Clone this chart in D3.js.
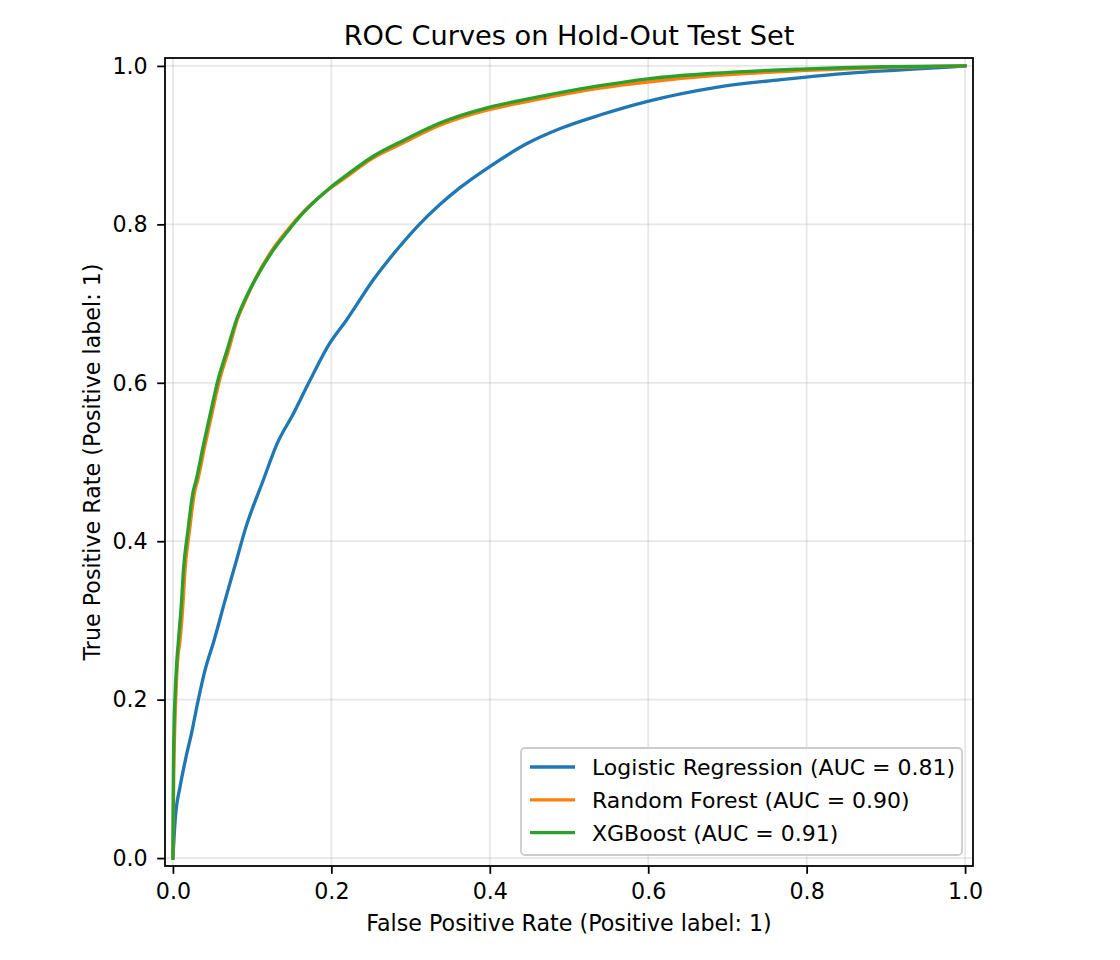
<!DOCTYPE html>
<html>
<head>
<meta charset="utf-8">
<script src="https://cdn.jsdelivr.net/npm/d3@7"></script>
<style>
  body { margin: 0; background: #fff; }
  svg { font-family: "DejaVu Sans", sans-serif; }
</style>
</head>
<body>
<div id="chart"></div>
<script>
// ROC points (fpr, tpr)
let lrFpr = [0, 0.003, 0.009, 0.016, 0.024, 0.031, 0.040, 0.052, 0.066, 0.080, 0.091, 0.114, 0.131, 0.152, 0.171, 0.198, 0.219, 0.253, 0.287, 0.312, 0.337, 0.362, 0.400, 0.447, 0.489, 0.539, 0.598, 0.686, 0.771, 0.855, 0.920, 0.985, 1];
let lrTpr = [0, 0.050, 0.090, 0.125, 0.160, 0.195, 0.235, 0.275, 0.326, 0.375, 0.414, 0.477, 0.522, 0.561, 0.599, 0.650, 0.679, 0.730, 0.773, 0.801, 0.825, 0.846, 0.873, 0.902, 0.921, 0.938, 0.955, 0.973, 0.983, 0.991, 0.995, 0.999, 1];

let rfFpr = [0, 0.001, 0.0025, 0.0035, 0.006, 0.009, 0.013, 0.015, 0.021, 0.027, 0.032, 0.040, 0.049, 0.059, 0.070, 0.081, 0.092, 0.106, 0.125, 0.144, 0.165, 0.181, 0.198, 0.215, 0.253, 0.287, 0.337, 0.400, 0.447, 0.539, 0.602, 0.686, 0.792, 0.897, 1];
let rfTpr = [0, 0.100, 0.170, 0.200, 0.250, 0.275, 0.326, 0.360, 0.414, 0.460, 0.480, 0.519, 0.560, 0.604, 0.640, 0.679, 0.705, 0.735, 0.767, 0.792, 0.816, 0.831, 0.845, 0.857, 0.884, 0.901, 0.925, 0.945, 0.955, 0.972, 0.980, 0.988, 0.994, 0.998, 1];

let xgbFpr = [0, 0.0005, 0.0015, 0.0025, 0.005, 0.007, 0.011, 0.013, 0.019, 0.025, 0.030, 0.038, 0.047, 0.057, 0.068, 0.080, 0.091, 0.106, 0.125, 0.144, 0.165, 0.181, 0.198, 0.215, 0.253, 0.287, 0.337, 0.400, 0.447, 0.539, 0.602, 0.686, 0.792, 0.897, 1];
let xgbTpr = [0, 0.100, 0.170, 0.200, 0.250, 0.275, 0.326, 0.360, 0.414, 0.460, 0.480, 0.519, 0.560, 0.604, 0.640, 0.679, 0.705, 0.734, 0.765, 0.790, 0.815, 0.831, 0.846, 0.859, 0.886, 0.904, 0.928, 0.948, 0.958, 0.975, 0.984, 0.991, 0.996, 0.999, 1];

let modelNames = ["Logistic Regression (AUC = 0.81)", "Random Forest (AUC = 0.90)", "XGBoost (AUC = 0.91)"];
let modelColors = ["#1f77b4", "#ff7f0e", "#2ca02c"];
let tickValues = [0, 0.2, 0.4, 0.6, 0.8, 1.0];

let width = 1120;
let height = 960;
let plotLeft = 165, plotRight = 973, plotTop = 58, plotBottom = 866;

let svg = d3.select("#chart")
  .append("svg")
    .attr("width", width)
    .attr("height", height);

let xScale = d3.scaleLinear().domain([-0.01, 1.01]).range([plotLeft, plotRight]);
let yScale = d3.scaleLinear().domain([-0.01, 1.01]).range([plotBottom, plotTop]);

// grid
let grid = svg.append("g").attr("class", "grid");
grid.selectAll(".vgrid").data(tickValues).enter()
  .append("line")
    .attr("class", "vgrid")
    .attr("x1", d => xScale(d)).attr("x2", d => xScale(d))
    .attr("y1", plotTop).attr("y2", plotBottom)
    .attr("stroke", "#b0b0b0").attr("stroke-opacity", 0.3).attr("stroke-width", 1.78);
grid.selectAll(".hgrid").data(tickValues).enter()
  .append("line")
    .attr("class", "hgrid")
    .attr("y1", d => yScale(d)).attr("y2", d => yScale(d))
    .attr("x1", plotLeft).attr("x2", plotRight)
    .attr("stroke", "#b0b0b0").attr("stroke-opacity", 0.3).attr("stroke-width", 1.78);

// axes
let xAxis = d3.axisBottom(xScale).tickValues(tickValues).tickFormat(d3.format(".1f"))
  .tickSize(7.8).tickSizeOuter(0);
let yAxis = d3.axisLeft(yScale).tickValues(tickValues).tickFormat(d3.format(".1f"))
  .tickSize(7.8).tickSizeOuter(0).tickPadding(9.5);

let xAxisGroup = svg.append("g").attr("transform", "translate(0," + plotBottom + ")").call(xAxis);
let yAxisGroup = svg.append("g").attr("transform", "translate(" + plotLeft + ",0)").call(yAxis);

[xAxisGroup, yAxisGroup].forEach(g => {
  g.select(".domain").remove();
  g.selectAll(".tick line").attr("stroke", "#000").attr("stroke-width", 1.78);
  g.selectAll(".tick text").attr("fill", "#000").style("font-size", "22.2px").style("font-family", "DejaVu Sans");
});
xAxisGroup.selectAll(".tick text").attr("y", 33).attr("dy", 0);
yAxisGroup.selectAll(".tick text").attr("dy", "0.33em");

// curves
svg.append("clipPath").attr("id", "plotclip")
  .append("rect").attr("x", plotLeft).attr("y", plotTop)
  .attr("width", plotRight - plotLeft).attr("height", plotBottom - plotTop);

let curves = [
  d3.zip(lrFpr, lrTpr),
  d3.zip(rfFpr, rfTpr),
  d3.zip(xgbFpr, xgbTpr)
];

let line = d3.line()
  .x(d => xScale(d[0]))
  .y(d => yScale(d[1]))
  .curve(d3.curveMonotoneX);

svg.append("g").attr("clip-path", "url(#plotclip)")
  .selectAll(".curve").data(curves).enter()
  .append("path")
    .attr("class", "curve")
    .attr("d", line)
    .attr("fill", "none")
    .attr("stroke", (d, i) => modelColors[i])
    .attr("stroke-width", 3.33)
    .attr("stroke-linejoin", "round")
    .attr("stroke-linecap", "square");

// frame
svg.append("rect")
  .attr("x", plotLeft).attr("y", plotTop)
  .attr("width", plotRight - plotLeft).attr("height", plotBottom - plotTop)
  .attr("fill", "none").attr("stroke", "#000").attr("stroke-width", 1.78);

// legend
let legend = svg.append("g").attr("class", "legend");
legend.append("rect")
  .attr("x", 521).attr("y", 748)
  .attr("width", 441).attr("height", 107)
  .attr("rx", 4).attr("ry", 4)
  .attr("fill", "#fff").attr("fill-opacity", 0.8)
  .attr("stroke", "#cccccc").attr("stroke-width", 1.78);

let legendRows = legend.selectAll(".row").data(modelNames).enter()
  .append("g")
    .attr("class", "row")
    .attr("transform", (d, i) => "translate(0," + (767 + i * 32.8) + ")");
legendRows.append("line")
  .attr("x1", 530).attr("x2", 575).attr("y1", 0).attr("y2", 0)
  .attr("stroke", (d, i) => modelColors[i]).attr("stroke-width", 3.33);
legendRows.append("text")
  .attr("x", 592).attr("y", 8)
  .style("font-size", "22px")
  .text(d => d);

// titles
svg.append("text")
  .attr("x", (plotLeft + plotRight) / 2).attr("y", 45)
  .attr("text-anchor", "middle")
  .style("font-size", "27.2px")
  .text("ROC Curves on Hold-Out Test Set");

svg.append("text")
  .attr("x", (plotLeft + plotRight) / 2).attr("y", 931)
  .attr("text-anchor", "middle")
  .style("font-size", "22.2px")
  .text("False Positive Rate (Positive label: 1)");

svg.append("text")
  .attr("transform", "translate(100," + ((plotTop + plotBottom) / 2) + ") rotate(-90)")
  .attr("text-anchor", "middle")
  .style("font-size", "22.2px")
  .text("True Positive Rate (Positive label: 1)");
</script>
</body>
</html>
